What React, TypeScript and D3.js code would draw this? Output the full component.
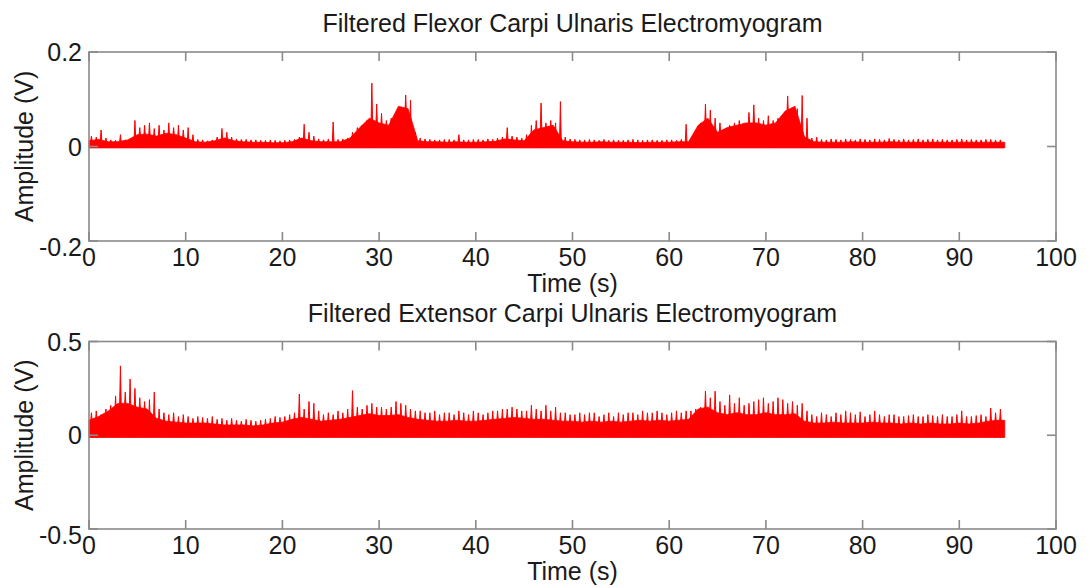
import React from "react";
import * as d3 from "d3";

// ---------- data ----------
const timeTicks = [0, 10, 20, 30, 40, 50, 60, 70, 80, 90, 100];
const flexorTicks = [-0.2, 0, 0.2];
const extensorTicks = [-0.5, 0, 0.5];
const tickLabelsFlexor = ["-0.2", "0", "0.2"];
const tickLabelsExtensor = ["-0.5", "0", "0.5"];
const recordEnd = 94.7; // seconds

// dense band upper level, one value per second (V)
const flexorBody = [
  0.012, 0.015, 0.01, 0.01, 0.014, 0.025, 0.026, 0.022, 0.028, 0.025,
  0.018, 0.01, 0.009, 0.012, 0.018, 0.012, 0.01, 0.009, 0.009, 0.008,
  0.008, 0.01, 0.018, 0.012, 0.01, 0.01, 0.01, 0.018, 0.04, 0.06,
  0.05, 0.045, 0.085, 0.08, 0.012, 0.01, 0.01, 0.009, 0.01, 0.009,
  0.009, 0.01, 0.011, 0.016, 0.014, 0.012, 0.035, 0.04, 0.045, 0.012,
  0.01, 0.009, 0.009, 0.01, 0.009, 0.009, 0.009, 0.008, 0.009, 0.009,
  0.009, 0.01, 0.01, 0.045, 0.06, 0.03, 0.04, 0.045, 0.05, 0.05,
  0.045, 0.05, 0.075, 0.085, 0.02, 0.01, 0.009, 0.009, 0.009, 0.01,
  0.009, 0.009, 0.009, 0.01, 0.009, 0.009, 0.009, 0.009, 0.009, 0.009,
  0.009, 0.009, 0.009, 0.009, 0.009,
];

// spike tips, one value per half second (V)
const flexorPeaks = [
  0.022, 0.02, 0.035, 0.018, 0.014, 0.013, 0.025, 0.014, 0.014, 0.055,
  0.04, 0.045, 0.05, 0.038, 0.045, 0.035, 0.05, 0.04, 0.045, 0.035,
  0.04, 0.025, 0.015, 0.014, 0.012, 0.014, 0.02, 0.038, 0.03, 0.02,
  0.016, 0.015, 0.015, 0.014, 0.014, 0.013, 0.013, 0.014, 0.013, 0.012,
  0.013, 0.014, 0.015, 0.02, 0.047, 0.03, 0.022, 0.016, 0.014, 0.016,
  0.052, 0.015, 0.016, 0.018, 0.03, 0.04, 0.045, 0.055, 0.134, 0.09,
  0.07, 0.055, 0.06, 0.05, 0.08, 0.109, 0.098, 0.03, 0.018, 0.016,
  0.015, 0.014, 0.014, 0.015, 0.015, 0.014, 0.025, 0.014, 0.014, 0.015,
  0.015, 0.014, 0.016, 0.015, 0.018, 0.02, 0.04, 0.022, 0.02, 0.018,
  0.025, 0.045, 0.055, 0.092, 0.05, 0.055, 0.05, 0.095, 0.02, 0.016,
  0.015, 0.014, 0.014, 0.015, 0.014, 0.013, 0.015, 0.013, 0.014, 0.013,
  0.013, 0.014, 0.015, 0.014, 0.013, 0.014, 0.014, 0.013, 0.013, 0.014,
  0.014, 0.013, 0.015, 0.047, 0.014, 0.02, 0.05, 0.09, 0.077, 0.06,
  0.05, 0.03, 0.045, 0.05, 0.055, 0.05, 0.072, 0.088, 0.06, 0.055,
  0.065, 0.055, 0.06, 0.065, 0.107, 0.075, 0.08, 0.108, 0.06, 0.018,
  0.02, 0.015, 0.014, 0.016, 0.015, 0.014, 0.016, 0.015, 0.014, 0.016,
  0.015, 0.014, 0.016, 0.015, 0.014, 0.017, 0.015, 0.014, 0.016, 0.014,
  0.015, 0.016, 0.014, 0.015, 0.016, 0.014, 0.015, 0.014, 0.014, 0.015,
  0.016, 0.014, 0.015, 0.014, 0.014, 0.015, 0.015, 0.014, 0.014, 0.013,
];

const extensorBody = [
  0.08, 0.1, 0.13, 0.17, 0.17, 0.15, 0.14, 0.09, 0.075, 0.07,
  0.065, 0.065, 0.065, 0.06, 0.055, 0.055, 0.055, 0.05, 0.055, 0.065,
  0.07, 0.085, 0.095, 0.085, 0.075, 0.08, 0.085, 0.095, 0.105, 0.115,
  0.105, 0.105, 0.11, 0.095, 0.085, 0.08, 0.075, 0.075, 0.08, 0.075,
  0.075, 0.08, 0.085, 0.09, 0.095, 0.09, 0.085, 0.085, 0.08, 0.075,
  0.075, 0.07, 0.075, 0.07, 0.075, 0.07, 0.075, 0.08, 0.075, 0.08,
  0.075, 0.08, 0.085, 0.14, 0.15, 0.12, 0.11, 0.12, 0.11, 0.11,
  0.12, 0.11, 0.11, 0.115, 0.075, 0.065, 0.065, 0.07, 0.065, 0.065,
  0.065, 0.07, 0.065, 0.065, 0.06, 0.065, 0.06, 0.065, 0.06, 0.06,
  0.065, 0.06, 0.065, 0.075, 0.08,
];

const extensorPeaks = [
  0.12, 0.13, 0.11, 0.14, 0.16, 0.21, 0.37, 0.23, 0.3, 0.25,
  0.2, 0.18, 0.19, 0.23, 0.14, 0.12, 0.11, 0.12, 0.1, 0.11,
  0.1, 0.09, 0.1, 0.095, 0.09, 0.1, 0.085, 0.09, 0.08, 0.09,
  0.08, 0.075, 0.085, 0.08, 0.075, 0.08, 0.085, 0.09, 0.1, 0.095,
  0.1, 0.11, 0.12, 0.22, 0.14, 0.18, 0.17, 0.13, 0.11, 0.12,
  0.11, 0.13, 0.12, 0.14, 0.238, 0.15, 0.14, 0.16, 0.17, 0.15,
  0.15, 0.14, 0.15, 0.18, 0.17, 0.16, 0.14, 0.13, 0.13, 0.12,
  0.12, 0.13, 0.11, 0.12, 0.12, 0.11, 0.13, 0.12, 0.11, 0.13,
  0.12, 0.11, 0.12, 0.13, 0.13, 0.14, 0.14, 0.15, 0.14, 0.13,
  0.13, 0.16, 0.14, 0.13, 0.16, 0.13, 0.15, 0.12, 0.12, 0.11,
  0.11, 0.12, 0.11, 0.12, 0.12, 0.1, 0.11, 0.12, 0.1, 0.12,
  0.11, 0.12, 0.12, 0.11, 0.13, 0.12, 0.12, 0.13, 0.12, 0.11,
  0.12, 0.13, 0.12, 0.13, 0.13, 0.14, 0.15, 0.236, 0.2, 0.235,
  0.18, 0.16, 0.215, 0.17, 0.2, 0.16, 0.17, 0.18, 0.19, 0.2,
  0.17, 0.18, 0.2, 0.19, 0.17, 0.18, 0.16, 0.17, 0.13, 0.11,
  0.1, 0.12, 0.11, 0.1, 0.12, 0.11, 0.13, 0.12, 0.11, 0.125,
  0.1, 0.11, 0.13, 0.11, 0.1, 0.11, 0.11, 0.1, 0.1, 0.105,
  0.11, 0.1, 0.1, 0.11, 0.105, 0.1, 0.11, 0.1, 0.1, 0.11,
  0.13, 0.1, 0.1, 0.105, 0.11, 0.1, 0.145, 0.12, 0.14, 0.12,
];

// ---------- layout ----------
const W = 1090;
const H = 588;
const LEFT = 89;
const RIGHT = 1056;
const FONT = "'Liberation Sans', Arial, Helvetica, sans-serif";
const FS = 25;
const FRAME = "#8a8a8a";
const TEXT = "#1a1a1a";
const RED = "#ff0000";

type PanelProps = {
  title: string;
  yDomain: [number, number];
  yTicks: number[];
  yTickLabels: string[];
  body: number[];
  peaks: number[];
  floor: number;
  top: number;
  bottom: number;
};

function Panel({ title, yDomain, yTicks, yTickLabels, body, peaks, floor, top, bottom }: PanelProps) {
  const x = d3.scaleLinear().domain([0, 100]).range([LEFT, RIGHT]);
  const y = d3.scaleLinear().domain(yDomain).range([bottom, top]);

  const bodyPts: [number, number][] = body.map((v, i) => [i, v] as [number, number]);
  bodyPts.push([recordEnd, body[body.length - 1]]);
  const area = d3
    .area<[number, number]>()
    .x((d) => x(d[0]))
    .y0(y(floor))
    .y1((d) => y(d[1]))(bodyPts) as string;

  const path = d3.path();
  peaks.forEach((p, k) => {
    const t = k * 0.5 + 0.25;
    if (t > recordEnd) return;
    const i0 = Math.min(Math.floor(t), body.length - 1);
    const i1 = Math.min(i0 + 1, body.length - 1);
    const b = Math.min(body[i0], body[i1], p) * 0.8;
    path.moveTo(x(t - 0.09), y(b));
    path.lineTo(x(t), y(p));
    path.lineTo(x(t + 0.09), y(b));
  });

  const tickLen = 9;
  const cx = (LEFT + RIGHT) / 2;
  const cy = (top + bottom) / 2;

  return (
    <g>
      <text x={cx} y={top - 20} textAnchor="middle" fontSize={FS} fill={TEXT} fontFamily={FONT}>
        {title}
      </text>
      {/* signal */}
      <path d={area} fill={RED} stroke={RED} strokeWidth={0.8} />
      <path d={path.toString()} fill={RED} stroke={RED} strokeWidth={1} strokeLinejoin="miter" />
      {/* frame */}
      <rect x={LEFT} y={top} width={RIGHT - LEFT} height={bottom - top} fill="none" stroke={FRAME} strokeWidth={1.6} />
      {timeTicks.map((t) => (
        <g key={"xt" + t}>
          <line x1={x(t)} x2={x(t)} y1={bottom} y2={bottom - tickLen} stroke={FRAME} strokeWidth={1.6} />
          <line x1={x(t)} x2={x(t)} y1={top} y2={top + tickLen} stroke={FRAME} strokeWidth={1.6} />
          <text x={x(t)} y={bottom + 25} textAnchor="middle" fontSize={FS} fill={TEXT} fontFamily={FONT}>
            {t}
          </text>
        </g>
      ))}
      {yTicks.map((v, i) => (
        <g key={"yt" + v}>
          <line x1={LEFT} x2={LEFT + tickLen} y1={y(v)} y2={y(v)} stroke={FRAME} strokeWidth={1.6} />
          <line x1={RIGHT} x2={RIGHT - tickLen} y1={y(v)} y2={y(v)} stroke={FRAME} strokeWidth={1.6} />
          <text
            x={LEFT - 7}
            y={y(v) + (i === 0 ? 6 : 0)}
            textAnchor="end"
            dominantBaseline="central"
            fontSize={FS}
            fill={TEXT}
            fontFamily={FONT}
          >
            {yTickLabels[i]}
          </text>
        </g>
      ))}
      <text x={cx} y={bottom + 51} textAnchor="middle" fontSize={FS} fill={TEXT} fontFamily={FONT}>
        Time (s)
      </text>
      <text
        transform={`translate(${33},${cy}) rotate(-90)`}
        textAnchor="middle"
        fontSize={FS}
        fill={TEXT}
        fontFamily={FONT}
      >
        Amplitude (V)
      </text>
    </g>
  );
}

export default function App() {
  return (
    <svg
      width={W}
      height={H}
      viewBox={`0 0 ${W} ${H}`}
      style={{ position: "absolute", left: 0, top: 0, background: "#fff" }}
    >
      <rect width={W} height={H} fill="#fff" />
      <Panel
        title="Filtered Flexor Carpi Ulnaris Electromyogram"
        yDomain={[-0.2, 0.2]}
        yTicks={flexorTicks}
        yTickLabels={tickLabelsFlexor}
        body={flexorBody}
        peaks={flexorPeaks}
        floor={-0.003}
        top={52}
        bottom={241}
      />
      <Panel
        title="Filtered Extensor Carpi Ulnaris Electromyogram"
        yDomain={[-0.5, 0.5]}
        yTicks={extensorTicks}
        yTickLabels={tickLabelsExtensor}
        body={extensorBody}
        peaks={extensorPeaks}
        floor={-0.012}
        top={341.5}
        bottom={529}
      />
    </svg>
  );
}
